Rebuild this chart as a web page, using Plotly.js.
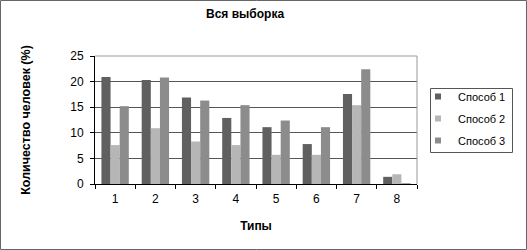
<!DOCTYPE html>
<html><head><meta charset="utf-8">
<script src="https://cdn.plot.ly/plotly-3.0.1.min.js"></script>
<style>body{margin:0;background:#fff}#c{width:527px;height:250px}</style>
</head><body><div id="c"></div>
<script>
const categories = ['1','2','3','4','5','6','7','8'];
const series1 = [20.9, 20.3, 16.9, 12.9, 11.1, 7.8, 17.6, 1.4];
const series2 = [7.6, 10.9, 8.3, 7.6, 5.7, 5.7, 15.4, 1.9];
const series3 = [15.2, 20.8, 16.3, 15.4, 12.4, 11.1, 22.4, 0.15];
const names = ['Способ 1','Способ 2','Способ 3'];
const colors = ['#606060','#b6b6b6','#8c8c8c'];
const yTicks = [0,5,10,15,20,25];

const W=527,H=250,L=95,R=110,T=56,B=66;
const pw=W-L-R, ph=H-T-B;
const px = v => (v-L)/pw;          // pixel x -> paper
const py = v => (H-B-v)/ph;        // pixel y -> paper
const font = {family:'Liberation Sans, Arial, sans-serif', size:11, color:'#000'};
const bars = [series1,series2,series3].map((v,i)=>({
  type:'bar', x:categories, y:v, name:names[i], showlegend:false,
  marker:{color:colors[i], line:{width:0}}
}));
const legendItems = names.map((n,i)=>({
  type:'scatter', mode:'markers', x:[null], y:[null], name:n, legendgroup:'g'+i,
  marker:{symbol:'square', size:6, color:colors[i]}
}));
const layout = {
  width:W, height:H, margin:{l:L,r:R,t:T,b:B, autoexpand:false},
  paper_bgcolor:'#fff', plot_bgcolor:'#fff',
  font:font, barmode:'group', bargap:0.32, bargroupgap:0,
  title:{text:'<b>Вся выборка</b>', font:{size:12,family:font.family}, x:0.465, xanchor:'center', y:0.945, yanchor:'middle'},
  xaxis:{type:'category', tickson:'boundaries', ticks:'outside', ticklen:4, tickcolor:'#000',
    showline:true, linecolor:'#000', linewidth:1, showgrid:false, ticklabelstandoff:4,
    tickfont:{size:12, color:'#000'},
    title:{text:'<b>Типы</b>', font:{size:12}, standoff:16}},
  yaxis:{range:[0,25], tickvals:yTicks, ticks:'outside', ticklen:4, tickcolor:'#000',
    showline:true, linecolor:'#000', linewidth:1, gridcolor:'#555', gridwidth:1, zeroline:false,
    tickfont:{size:12, color:'#000'}, ticklabelstandoff:4,
    title:{text:'<b>Количество человек (%)</b>', font:{size:12.5}, standoff:36}},
  legend:{x:px(418), y:py(82), xanchor:'left', yanchor:'top', borderwidth:0,
    font:{size:11}, itemwidth:30, traceorder:'grouped', tracegroupgap:3, bgcolor:'rgba(0,0,0,0)'},
  shapes:[
    {type:'line', xref:'paper', yref:'paper', x0:1, x1:1, y0:0, y1:1, line:{color:'#999',width:1}},
    {type:'line', xref:'paper', yref:'paper', x0:0, x1:1, y0:1, y1:1, line:{color:'#999',width:1}},
    {type:'rect', xref:'paper', yref:'paper', x0:px(430.5), x1:px(512.5), y0:py(152.5), y1:py(88.5),
      line:{color:'#555',width:1}},
    {type:'rect', xref:'paper', yref:'paper', x0:px(0.5), x1:px(W-0.5), y0:py(H-0.5), y1:py(0.5),
      line:{color:'#666',width:1}}
  ]
};
Plotly.newPlot('c', bars.concat(legendItems), layout, {displayModeBar:false, staticPlot:true});
</script></body></html>
